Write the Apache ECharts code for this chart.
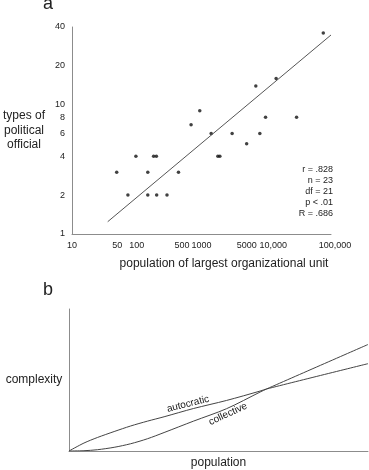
<!DOCTYPE html>
<html>
<head>
<meta charset="utf-8">
<script src="https://cdn.jsdelivr.net/npm/echarts@6/dist/echarts.min.js"></script>
<style>
  html, body { margin: 0; padding: 0; background: #fff; }
  #chart { width: 369px; height: 470px; }
</style>
</head>
<body>
<div id="chart"></div>
<script>
// panel a: tick labels
var xTickValues = [10, 50, 100, 500, 1000, 5000, 10000, 100000];
var yTickValues = [1, 2, 4, 6, 8, 10, 20, 40];

// panel a: one point per society
var population = [76000, 14200, 6900, 940, 690, 9750, 29400, 1410, 2970, 7960, 4980,
  97, 182, 201, 1790, 1920, 49, 148, 441, 73, 148, 203, 293];
var officialTypes = [36, 16, 14, 9, 7, 8, 8, 6, 6, 6, 5,
  4, 4, 4, 4, 4, 3, 3, 3, 2, 2, 2, 2];

// regression line end points
var fitPopulation = [35.6, 100000];
var fitTypes = [1.245, 34.7];

var statsLines = ['r = .828', 'n = 23', 'df = 21', 'p < .01', 'R = .686'];

// panel b: schematic curves
var popB = [0, 5, 9.5, 15.1, 20.6, 26.2, 31.8, 41.6, 52.7, 63.9, 66.1, 100];
var autocratic = [0, 5.6, 9.5, 13.7, 17.6, 21.0, 24.1, 29.9, 35.6, 42.2, 43.7, 61.5];
var collective = [0, 0.2, 0.9, 2.6, 5.1, 8.6, 13.0, 21.0, 29.8, 41.5, 43.7, 75.0];

var font = 'Liberation Sans, Arial, sans-serif';
var axisGray = '#8c8c8c';
var textColor = '#222';

function zip(a, b) {
  var out = [];
  for (var i = 0; i < a.length; i++) out.push([a[i], b[i]]);
  return out;
}

// stats block, one right-aligned text per line
var statsGraphics = [];
for (var i = 0; i < statsLines.length; i++) {
  statsGraphics.push({
    type: 'text', x: 333, y: 170 + i * 11,
    style: {
      text: statsLines[i], fontSize: 9, fontFamily: font, fill: textColor,
      align: 'right', verticalAlign: 'middle'
    }
  });
}

var myChart = echarts.init(document.getElementById('chart'), null, { renderer: 'canvas' });

var option = {
  animation: false,
  textStyle: { fontFamily: font, color: textColor },
  grid: [
    { left: 70, top: 27, width: 261, height: 207 },
    { left: 69, top: 309, width: 299, height: 144 }
  ],
  xAxis: [
    {
      gridIndex: 0,
      type: 'log',
      logBase: 10,
      min: 10,
      max: 100000,
      name: 'population of largest organizational unit',
      nameLocation: 'middle',
      nameGap: 24,
      nameTextStyle: { fontSize: 12, color: textColor, fontFamily: font, padding: [0, 0, 0, 45] },
      axisLine: { lineStyle: { color: axisGray, width: 1 } },
      axisTick: { show: false },
      splitLine: { show: false },
      minorTick: { show: false },
      axisLabel: {
        customValues: xTickValues,
        fontSize: 9,
        color: textColor,
        margin: 7,
        hideOverlap: false,
        formatter: function (v) {
          var n = Math.round(v);
          if (n >= 100000) return '{far|' + n.toLocaleString('en-US') + '}';
          if (n >= 10000) return '{wide|' + n.toLocaleString('en-US') + '}';
          return String(n);
        },
        rich: {
          wide: { fontSize: 9, color: textColor, padding: [0, 0, 0, 14] },
          far: { fontSize: 9, color: textColor, padding: [0, 0, 0, 8] }
        }
      }
    },
    {
      gridIndex: 1,
      type: 'value',
      min: 0,
      max: 100,
      name: 'population',
      nameLocation: 'middle',
      nameGap: 6,
      nameTextStyle: { fontSize: 12, color: textColor, fontFamily: font },
      axisLine: { lineStyle: { color: axisGray, width: 1 } },
      axisTick: { show: false },
      axisLabel: { show: false },
      splitLine: { show: false }
    }
  ],
  yAxis: [
    {
      gridIndex: 0,
      type: 'log',
      logBase: 10,
      min: 1,
      max: 40,
      name: 'types of\npolitical\nofficial',
      nameLocation: 'middle',
      nameRotate: 0,
      nameGap: 48,
      nameTextStyle: {
        fontSize: 12, color: textColor, fontFamily: font,
        align: 'center', verticalAlign: 'middle', lineHeight: 14.5,
        padding: [0, 0, 8, 0]
      },
      axisLine: { show: true, lineStyle: { color: axisGray, width: 1 } },
      axisTick: { show: false },
      splitLine: { show: false },
      minorTick: { show: false },
      axisLabel: {
        customValues: yTickValues,
        fontSize: 9,
        color: textColor,
        margin: 7,
        hideOverlap: false,
        formatter: function (v) { return String(Math.round(v)); }
      }
    },
    {
      gridIndex: 1,
      type: 'value',
      min: 0,
      max: 100,
      name: 'complexity',
      nameLocation: 'middle',
      nameRotate: 0,
      nameGap: 35,
      nameTextStyle: {
        fontSize: 12, color: textColor, fontFamily: font,
        align: 'center', verticalAlign: 'middle', padding: [0, 0, 10, 0]
      },
      axisLine: { show: true, lineStyle: { color: axisGray, width: 1 } },
      axisTick: { show: false },
      axisLabel: { show: false },
      splitLine: { show: false }
    }
  ],
  graphic: [
    { type: 'text', left: 43, top: -5, style: { text: 'a', fontSize: 18, fontFamily: font, fill: textColor } },
    { type: 'text', left: 43, top: 281, style: { text: 'b', fontSize: 18, fontFamily: font, fill: textColor } },
    {
      type: 'text', x: 188, y: 404, rotation: 14 * Math.PI / 180,
      style: { text: 'autocratic', fontSize: 10, fontFamily: font, fill: textColor, align: 'center', verticalAlign: 'middle' }
    },
    {
      type: 'text', x: 228, y: 414, rotation: 25 * Math.PI / 180,
      style: { text: 'collective', fontSize: 10, fontFamily: font, fill: textColor, align: 'center', verticalAlign: 'middle' }
    }
  ].concat(statsGraphics),
  series: [
    {
      name: 'societies',
      type: 'scatter',
      xAxisIndex: 0,
      yAxisIndex: 0,
      symbol: 'circle',
      symbolSize: 3.5,
      itemStyle: { color: '#111' },
      data: zip(population, officialTypes)
    },
    {
      name: 'fit',
      type: 'line',
      xAxisIndex: 0,
      yAxisIndex: 0,
      symbol: 'none',
      lineStyle: { color: '#555', width: 1 },
      data: zip(fitPopulation, fitTypes)
    },
    {
      name: 'autocratic',
      type: 'line',
      xAxisIndex: 1,
      yAxisIndex: 1,
      symbol: 'none',
      smooth: 0.3,
      lineStyle: { color: '#444', width: 1 },
      data: zip(popB, autocratic)
    },
    {
      name: 'collective',
      type: 'line',
      xAxisIndex: 1,
      yAxisIndex: 1,
      symbol: 'none',
      smooth: 0.3,
      lineStyle: { color: '#444', width: 1 },
      data: zip(popB, collective)
    }
  ]
};

myChart.setOption(option);
</script>
</body>
</html>
